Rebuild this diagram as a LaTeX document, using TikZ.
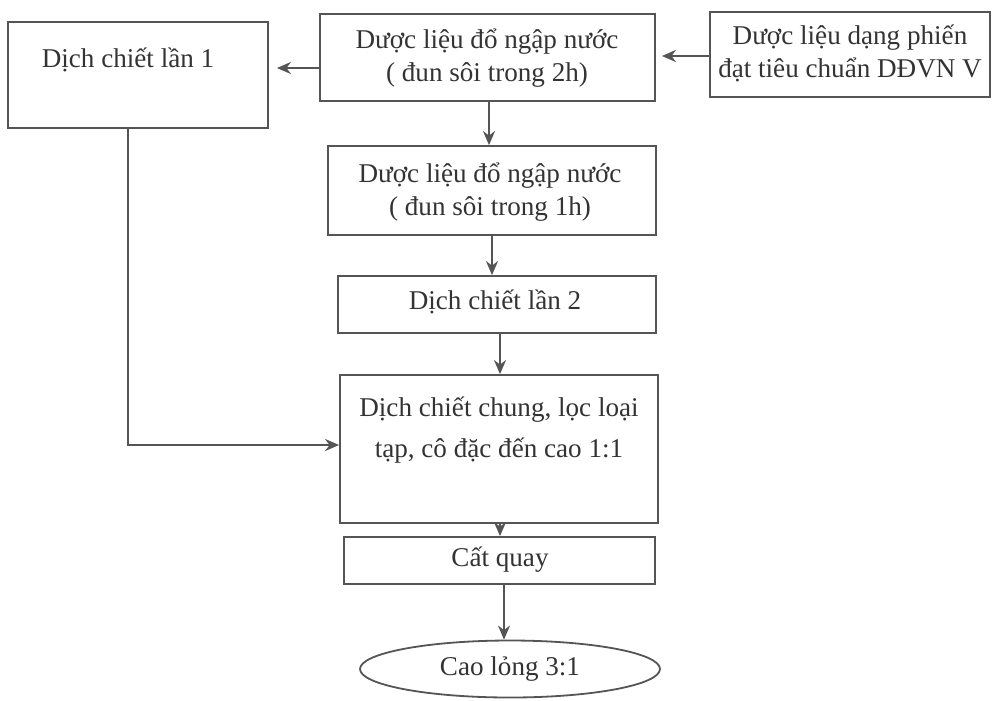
\documentclass[tikz,border=0pt]{standalone}
\usepackage{fontspec}
\setmainfont{Liberation Serif}
\usetikzlibrary{fit,arrows.meta,shapes.geometric}
\definecolor{ink}{HTML}{333333}
\definecolor{stroke}{HTML}{555555}
\begin{document}
\begin{tikzpicture}[x=0.0175cm,y=-0.0175cm,
  box/.style={draw=stroke,line width=0.9pt,inner sep=0pt,rectangle},
  txt/.style={text=ink,align=center,font=\fontsize{13.5}{16.5}\selectfont,inner sep=0pt},
  arr/.style={draw=stroke,line width=0.9pt,-{Stealth[length=7pt,width=6pt]}}]
\useasboundingbox (0,0) rectangle (1000,700);
% boxes
\node[box,fit={(8,22)(268,128)}] (b1) {};
\node[box,fit={(320,14)(655,101)}] (m) {};
\node[box,fit={(710,12)(990,97)}] (r) {};
\node[box,fit={(328,146)(656,235)}] (b2) {};
\node[box,fit={(338,276)(656,333)}] (b3) {};
\node[box,fit={(340,375)(658,523)}] (b4) {};
\node[box,fit={(344,537)(655,584)}] (b5) {};
\node[draw=stroke,line width=0.9pt,ellipse,minimum width=300*0.0175cm,minimum height=57*0.0175cm,inner sep=0pt] (e) at (510,669) {};
% texts
\node[txt] (t1) at (128,60) {Dịch chiết lần 1};
\node[txt] (tm) at (487,58) {Dược liệu đổ ngập nước\\( đun sôi trong 2h)};
\node[txt] (tr) at (850,53) {Dược liệu dạng phiến\\đạt tiêu chuẩn DĐVN V};
\node[txt] (t2) at (490,192) {Dược liệu đổ ngập nước\\( đun sôi trong 1h)};
\node[txt] (t3) at (495,302) {Dịch chiết lần 2};
\node[txt,font=\fontsize{13.5}{20}\selectfont] (t4) at (499,430) {Dịch chiết chung, lọc loại\\tạp, cô đặc đến cao 1:1};
\node[txt] (t5) at (500,560) {Cất quay};
\node[txt] (te) at (510,669) {Cao lỏng 3:1};
% helper coordinates
\coordinate (kx1) at (128,0);
\coordinate (ky1) at (0,68);
\coordinate (ky2) at (0,56);
\coordinate (ky3) at (0,445);
\coordinate (kv1) at (489,0);
\coordinate (kv2) at (492,0);
\coordinate (kv3) at (500,0);
\coordinate (kv4) at (500,0);
\coordinate (kv5) at (504,0);
% connectors
\draw[arr,shorten >=3pt] (r.west |- ky2) -- (m.east |- ky2);
\draw[arr,shorten >=4pt] (m.west |- ky1) -- (b1.east |- ky1);
\draw[arr] (m.south -| kv1) -- (b2.north -| kv1);
\draw[arr] (b2.south -| kv2) -- (b3.north -| kv2);
\draw[arr] (b3.south -| kv3) -- (b4.north -| kv3);
\draw[arr] (b4.south -| kv4) -- (b5.north -| kv4);
\draw[arr] (b5.south -| kv5) -- (e.north -| kv5);
\draw[arr] (b1.south -| kx1) |- (b4.west |- ky3);
\end{tikzpicture}
\end{document}
